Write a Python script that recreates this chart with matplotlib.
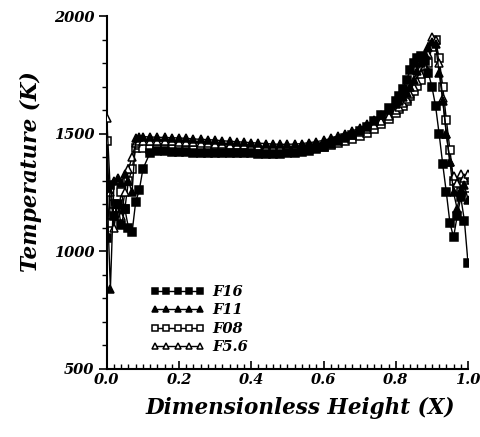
import matplotlib
matplotlib.use("Agg")
import matplotlib.pyplot as plt
from matplotlib.ticker import MultipleLocator

# dimensionless height positions shared by all runs
X = [0.00, 0.01, 0.02, 0.03, 0.04, 0.05, 0.06, 0.07, 0.08, 0.09, 0.10,
     0.12, 0.14, 0.16, 0.18, 0.20, 0.22, 0.24, 0.26, 0.28, 0.30, 0.32,
     0.34, 0.36, 0.38, 0.40, 0.42, 0.44, 0.46, 0.48, 0.50, 0.52, 0.54,
     0.56, 0.58, 0.60, 0.62, 0.64, 0.66, 0.68, 0.70, 0.72, 0.74, 0.76,
     0.78, 0.80,
     0.81, 0.82, 0.83, 0.84, 0.85, 0.86, 0.87, 0.88, 0.89, 0.90,
     0.91, 0.92, 0.93, 0.94, 0.95, 0.96, 0.97, 0.98, 0.99, 1.00]

# temperature (K) per f-number
T_F16 = [1055, 1280, 1150, 1200, 1110, 1180, 1100, 1080, 1210, 1260, 1350,
         1420, 1425, 1425, 1424, 1422, 1421, 1420, 1420, 1419, 1418, 1418,
         1417, 1417, 1416, 1416, 1415, 1415, 1415, 1415, 1416, 1418, 1422,
         1428, 1435, 1445, 1455, 1468, 1480, 1495, 1510, 1530, 1555, 1580,
         1610, 1640,
         1660, 1690, 1730, 1770, 1800, 1820, 1830, 1810, 1760, 1700,
         1620, 1500, 1370, 1250, 1120, 1060, 1150, 1230, 1130, 950]

T_F11 = [1270, 840, 1300, 1310, 1290, 1330, 1300, 1250, 1480, 1485, 1488,
         1486, 1485, 1484, 1483, 1482, 1480, 1478, 1476, 1475, 1473, 1470,
         1468, 1466, 1464, 1462, 1460, 1458, 1456, 1455, 1455, 1456, 1458,
         1462, 1466, 1472, 1480, 1490, 1500, 1512, 1525, 1540, 1558, 1578,
         1600, 1625,
         1640, 1655, 1675, 1700, 1730, 1765, 1800, 1840, 1870, 1890,
         1880, 1760, 1640, 1500, 1380, 1250, 1180, 1260, 1280, 1220]

T_F08 = [1470, 1120, 1200, 1150, 1250, 1180, 1300, 1350, 1440, 1450, 1440,
         1436, 1435, 1434, 1434, 1433, 1432, 1431, 1430, 1430, 1429, 1428,
         1427, 1426, 1426, 1425, 1424, 1424, 1424, 1424, 1425, 1427, 1430,
         1434, 1439, 1445, 1452, 1460, 1468, 1478, 1490, 1505, 1522, 1540,
         1562, 1590,
         1605, 1620, 1640, 1660, 1680, 1705, 1730, 1760, 1800, 1870,
         1900, 1820, 1700, 1560, 1430, 1300, 1270, 1250, 1290, 1270]

T_F56 = [1565, 1250, 1100, 1200, 1150, 1250, 1350, 1400, 1460, 1470, 1468,
         1470, 1469, 1468, 1467, 1466, 1465, 1463, 1461, 1460, 1458, 1456,
         1454, 1452, 1450, 1448, 1446, 1445, 1444, 1443, 1443, 1444, 1446,
         1450, 1455, 1460, 1467, 1475, 1484, 1495, 1507, 1520, 1536, 1555,
         1576, 1600,
         1615, 1630, 1648, 1668, 1700, 1725, 1755, 1790, 1840, 1910,
         1900, 1800, 1650, 1500, 1380, 1320, 1290, 1330, 1310, 1330]

LABELS = ["F16", "F11", "F08", "F5.6"]

FONT = dict(family="DejaVu Serif", style="italic", weight="bold")

fig = plt.figure(figsize=(4.81, 4.37), dpi=100)
ax = fig.add_axes([0.222, 0.156, 0.751, 0.807])

styles = [
    dict(marker="s", mfc="black", zorder=4),
    dict(marker="^", mfc="black", zorder=4),
    dict(marker="s", mfc="white", zorder=3),
    dict(marker="^", mfc="white", zorder=3),
]
for T, lab, st in zip([T_F16, T_F11, T_F08, T_F56], LABELS, styles):
    ax.plot(X, T, color="black", lw=1.0, ms=5.3, mec="black", mew=1.1,
            label=lab, **st)

ax.set_xlim(0, 1.0)
ax.set_ylim(500, 2000)
ax.xaxis.set_major_locator(MultipleLocator(0.2))
ax.xaxis.set_minor_locator(MultipleLocator(0.02))
ax.yaxis.set_major_locator(MultipleLocator(500))
ax.yaxis.set_minor_locator(MultipleLocator(100))
ax.tick_params(axis="x", which="major", direction="in", length=6, width=1.2, pad=3)
ax.tick_params(axis="x", which="minor", direction="in", length=3.5, width=1)
ax.tick_params(axis="y", which="major", direction="out", length=6, width=1.2, pad=3)
ax.tick_params(axis="y", which="minor", direction="out", length=3.5, width=1)
ax.set_xticklabels([f"{v:.1f}" for v in ax.get_xticks()])
for t in ax.get_xticklabels() + ax.get_yticklabels():
    t.set(fontsize=10.5, **FONT)

for s in ["top", "right"]:
    ax.spines[s].set_visible(False)
for s in ["left", "bottom"]:
    ax.spines[s].set_linewidth(1.5)

ax.set_xlabel("Dimensionless Height (X)", fontsize=15.5, **FONT)
ax.set_ylabel("Temperature (K)", fontsize=15.5, **FONT)
ax.xaxis.set_label_coords(0.535, -0.08)
ax.yaxis.set_label_coords(-0.18, 0.56)

leg = ax.legend(loc="upper left", bbox_to_anchor=(0.085, 0.275), frameon=False,
                numpoints=5, handlelength=3.7, handletextpad=0.5,
                labelspacing=0.3, markerscale=0.85,
                prop=dict(size=10.5, **FONT))

fig.savefig("out.png", dpi=100)
